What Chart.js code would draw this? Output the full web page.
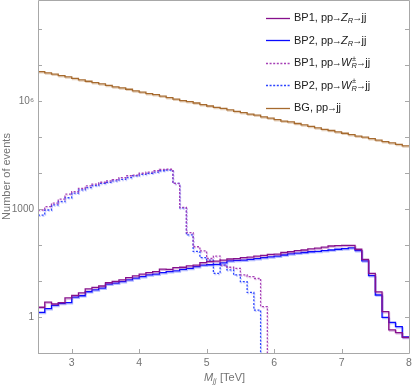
<!DOCTYPE html>
<html>
<head>
<meta charset="utf-8">
<script src="https://cdn.jsdelivr.net/npm/chart.js@4.4.1/dist/chart.umd.min.js"></script>
<style>
  html, body { margin: 0; background: #fff; }
  #wrap { width: 415px; height: 388px; }
</style>
</head>
<body>
<div id="wrap"><canvas id="chart"></canvas></div>
<script>
// histogram bins: 0.1 TeV wide starting at 2.5 TeV
const binStart = 2.5;
const binWidth = 0.1;
const xTicks = [3, 4, 5, 6, 7, 8];
const yTicks = [0.1, 1, 10, 100, 1e3, 1e4, 1e5, 1e6, 1e7, 1e8];
const yTickLabels = { 1: "1", 1000: "1000", 1000000: "10\u2076" };

const bp1Z = [1.86, 2.57, 2.29, 2.51, 3.39, 3.98, 4.68, 6.03, 6.61, 7.24,
  8.91, 9.77, 10.7, 12.3, 13.8, 15.5, 17.0, 18.2, 21.4, 21.0,
  23.4, 24.0, 26.3, 27.5, 32.4, 34.7, 35.5, 38.0, 40.7, 41.7,
  44.7, 45.7, 49.0, 51.3, 55.0, 55.5, 61.7, 64.6, 69.2, 72.4,
  77.6, 81.3, 87.1, 93.3, 95.5, 97.7, 97.7, 75.9, 39.8, 16.2,
  5.0, 1.41, 0.44, 0.37, 0.27];

const bp2Z = [1.35, 1.70, 2.09, 2.40, 2.51, 3.55, 3.89, 5.01, 5.62, 6.31,
  8.13, 8.71, 9.55, 10.7, 12.0, 13.2, 14.8, 15.5, 17.0, 18.2,
  19.1, 20.9, 22.4, 25.1, 27.5, 28.2, 28.8, 31.6, 36.3, 37.2,
  38.0, 39.8, 41.7, 44.7, 46.8, 49.0, 52.5, 56.2, 58.9, 61.7,
  64.6, 66.1, 69.2, 72.4, 75.9, 79.4, 83.2, 69.2, 36.3, 14.1,
  4.07, 0.98, 0.71, 0.54, 0.28];

const bp1W = [933, 1150, 1445, 1860, 2570, 3020, 3720, 4365, 4900, 5500,
  6030, 6460, 7410, 8320, 8710, 9770, 10470, 11480, 12590, 12600,
  5130, 1100, 219, 89, 68, 42, 49, 27.5, 24.0, 22.4,
  14.8, 13.2, 11.7, 1.95, 0, 0, 0, 0, 0, 0,
  0, 0, 0, 0, 0, 0, 0, 0, 0, 0,
  0, 0, 0, 0, 0];

const bp2W = [676, 933, 1290, 1585, 2040, 2750, 3390, 3890, 4470, 5130,
  5500, 6030, 6610, 7410, 8320, 9120, 9770, 10470, 11480, 12020,
  5130, 1070, 190, 66, 44.7, 38.0, 16.2, 27.5, 20.4, 14.8,
  9.55, 4.79, 1.55, 0, 0, 0, 0, 0, 0, 0,
  0, 0, 0, 0, 0, 0, 0, 0, 0, 0,
  0, 0, 0, 0, 0];

const bg = [6.5e6, 6.0e6, 5.5e6, 5.0e6, 4.6e6, 4.2e6, 3.8e6, 3.5e6, 3.2e6, 2.95e6,
  2.7e6, 2.45e6, 2.3e6, 2.1e6, 1.9e6, 1.74e6, 1.58e6, 1.48e6, 1.35e6, 1.23e6,
  1.12e6, 1.02e6, 9.5e5, 8.7e5, 7.9e5, 7.2e5, 6.6e5, 6.2e5, 5.6e5, 5.1e5,
  4.7e5, 4.3e5, 4.0e5, 3.6e5, 3.3e5, 3.0e5, 2.75e5, 2.6e5, 2.35e5, 2.15e5,
  1.95e5, 1.78e5, 1.62e5, 1.5e5, 1.38e5, 1.26e5, 1.15e5, 1.05e5, 9.8e4, 8.9e4,
  8.1e4, 7.4e4, 6.8e4, 6.2e4, 5.6e4];

const FONT = '"Liberation Sans", Arial, "DejaVu Sans", sans-serif';
const GRAY = "#737373";
const AXIS = "#a8a8a8";

// empty bins fall below the plot floor so the step drops to the axis
const FLOOR = 1e-3;
function hist(vals) {
  const pts = vals.map((v, i) => ({ x: binStart + i * binWidth, y: v > 0 ? v : FLOOR }));
  const last = vals[vals.length - 1];
  pts.push({ x: binStart + vals.length * binWidth, y: last > 0 ? last : FLOOR });
  return pts;
}

const ARROW = { arrow: true };
const series = [
  { key: "bp1Z", data: bp1Z, color: "#86108c", halo: "rgba(150,40,160,0.35)", dash: [],
    label: ["BP1, pp", ARROW, { t: "Z", it: true }, { sub: "R" }, ARROW, "jj"] },
  { key: "bp2Z", data: bp2Z, color: "#0a0aff", halo: "rgba(40,60,255,0.35)", dash: [],
    label: ["BP2, pp", ARROW, { t: "Z", it: true }, { sub: "R" }, ARROW, "jj"] },
  { key: "bp1W", data: bp1W, color: "#a640b6", halo: "rgba(170,70,190,0.25)", dash: [2, 1.6],
    label: ["BP1, pp", ARROW, { t: "W", it: true }, { sup: "\u00b1", sub: "R" }, ARROW, "jj"] },
  { key: "bp2W", data: bp2W, color: "#2c44ff", halo: "rgba(50,70,255,0.25)", dash: [2, 1.6],
    label: ["BP2, pp", ARROW, { t: "W", it: true }, { sup: "\u00b1", sub: "R" }, ARROW, "jj"] },
  { key: "bg", data: bg, color: "#a66a2e", halo: "rgba(180,120,60,0.35)", dash: [],
    label: ["BG, pp", ARROW, "jj"] }
];

// rich text with italics / sub / superscripts, returns width
function rich(ctx, parts, x, y, size, draw) {
  let cx = x;
  for (const p of parts) {
    if (p.arrow) {
      ctx.font = size + "px " + FONT;
      const w = ctx.measureText("\u2192").width;
      if (draw) {
        ctx.save();
        ctx.translate(cx - w * 0.1, y);
        ctx.scale(0.9, 1);
        ctx.fillText("\u2192", 0, 0);
        ctx.restore();
      }
      cx += w * 0.72;
    } else if (typeof p === "string" || p.t) {
      const s = typeof p === "string" ? p : p.t;
      ctx.font = (p.it ? "italic " : "") + size + "px " + FONT;
      if (draw) ctx.fillText(s, cx, y);
      cx += ctx.measureText(s).width;
    } else {
      const ss = size * 0.68;
      ctx.font = "italic " + ss + "px " + FONT;
      let w = 0;
      if (p.sub) {
        if (draw) ctx.fillText(p.sub, cx, y + size * 0.3);
        w = Math.max(w, ctx.measureText(p.sub).width);
      }
      if (p.sup) {
        ctx.font = ss + "px " + FONT;
        if (draw) ctx.fillText(p.sup, cx + 0.5, y - size * 0.4);
        w = Math.max(w, ctx.measureText(p.sup).width + 0.5);
      }
      cx += w + 0.5;
    }
  }
  return cx - x;
}

const haloPlugin = {
  id: "halo",
  beforeDatasetDraw(chart, args) {
    const ds = chart.data.datasets[args.index];
    const ctx = chart.ctx;
    ctx.save();
    ctx.shadowColor = ds.halo;
    ctx.shadowOffsetX = 0.8;
    ctx.shadowOffsetY = 1.2;
    ctx.shadowBlur = 0.6;
  },
  afterDatasetDraw(chart) {
    chart.ctx.restore();
  }
};

const framePlugin = {
  id: "frame",
  afterDraw(chart) {
    const { ctx, chartArea: a, scales } = chart;
    ctx.save();
    ctx.strokeStyle = AXIS;
    ctx.lineWidth = 1;
    ctx.beginPath();
    ctx.moveTo(a.left + 0.5, a.top + 0.5);
    ctx.lineTo(a.left + 0.5, a.bottom + 0.5);
    ctx.lineTo(a.right + 0.5, a.bottom + 0.5);
    ctx.lineTo(a.right + 0.5, a.top + 0.5);
    ctx.lineTo(a.left + 0.5, a.top + 0.5);
    // inward ticks
    for (const v of yTicks) {
      const y = Math.round(scales.y.getPixelForValue(v)) + 0.5;
      ctx.moveTo(a.left, y); ctx.lineTo(a.left + 4, y);
      ctx.moveTo(a.right, y); ctx.lineTo(a.right - 4, y);
    }
    for (const v of xTicks) {
      const x = Math.round(scales.x.getPixelForValue(v)) + 0.5;
      ctx.moveTo(x, a.bottom); ctx.lineTo(x, a.bottom - 4);
    }
    ctx.stroke();

    // x axis title
    ctx.fillStyle = GRAY;
    ctx.textBaseline = "middle";
    const xt = [{ t: "M", it: true }, { sub: "jj" }, " [TeV]"];
    const w = rich(ctx, xt, 0, 0, 11, false);
    rich(ctx, xt, (a.left + a.right) / 2 - w / 2 + 1, 377.5, 11, true);

    // legend
    const rowY = 17.5, rowGap = 22.5;
    series.forEach((s, i) => {
      const y = rowY + i * rowGap;
      ctx.save();
      ctx.strokeStyle = s.color;
      ctx.lineWidth = 1.3;
      ctx.setLineDash(s.dash);
      ctx.beginPath();
      ctx.moveTo(266, Math.round(y) + 0.5);
      ctx.lineTo(290, Math.round(y) + 0.5);
      ctx.stroke();
      ctx.restore();
      ctx.fillStyle = "#202020";
      rich(ctx, s.label, 294, y + 0.5, 11, true);
    });
    ctx.restore();
  }
};

new Chart(document.getElementById("chart"), {
  type: "line",
  data: {
    datasets: series.map((s, i) => ({
      label: s.key,
      data: hist(s.data),
      borderColor: s.color,
      borderWidth: 1.3,
      borderDash: s.dash,
      halo: s.halo,
      stepped: true,
      pointRadius: 0,
      fill: false,
      order: i
    }))
  },
  options: {
    responsive: true,
    maintainAspectRatio: false,
    animation: false,
    events: [],
    layout: { padding: { top: 0, right: 6, left: 0, bottom: 0 } },
    plugins: { legend: { display: false }, tooltip: { enabled: false } },
    scales: {
      x: {
        type: "linear",
        min: 2.5,
        max: 8,
        grid: { display: false, drawTicks: false },
        border: { display: false },
        afterBuildTicks(scale) { scale.ticks = xTicks.map(v => ({ value: v })); },
        afterFit(scale) { scale.height = 35; scale.paddingLeft = 0; scale.paddingRight = 0; },
        ticks: {
          autoSkip: false,
          maxRotation: 0,
          padding: 4,
          color: GRAY,
          font: { family: FONT, size: 10.5 },
          callback: v => String(v)
        }
      },
      y: {
        type: "logarithmic",
        min: 0.1,
        max: 6.3e8,
        grid: { display: false, drawTicks: false },
        border: { display: false },
        afterBuildTicks(scale) { scale.ticks = yTicks.map(v => ({ value: v })); },
        afterFit(scale) { scale.width = 38; scale.paddingTop = 0; scale.paddingBottom = 0; },
        title: {
          display: true,
          text: "Number of events",
          color: GRAY,
          padding: { top: 0, bottom: 0 },
          font: { family: FONT, size: 11 }
        },
        ticks: {
          autoSkip: false,
          padding: 4,
          color: GRAY,
          font: { family: FONT, size: 10 },
          callback: v => {
            for (const k in yTickLabels) {
              if (Math.abs(v / Number(k) - 1) < 1e-6) return yTickLabels[k];
            }
            return "";
          }
        }
      }
    }
  },
  plugins: [haloPlugin, framePlugin]
});
</script>
</body>
</html>
